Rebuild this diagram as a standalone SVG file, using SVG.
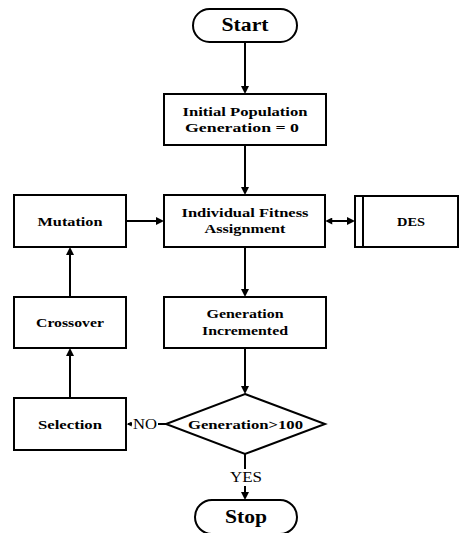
<svg xmlns="http://www.w3.org/2000/svg" width="460" height="533" viewBox="0 0 460 533">
<defs>
<style>
.box{fill:#fff;stroke:#000;stroke-width:2}
.t{font-family:"Liberation Serif","Times New Roman",serif;font-weight:bold;font-size:13px;text-anchor:middle;fill:#000}
.big{font-size:18px}
.lbl{font-family:"Liberation Serif","Times New Roman",serif;font-size:14px;text-anchor:middle;fill:#000}
.c{stroke:#000;stroke-width:2;fill:none}
</style>
<marker id="ah" viewBox="0 0 10 10" refX="7.5" refY="5" markerWidth="8" markerHeight="8" markerUnits="userSpaceOnUse" orient="auto"><path d="M0,0 L10,5 L0,10 z" fill="#000"/></marker>
<marker id="ahs" viewBox="0 0 10 10" refX="7.5" refY="5" markerWidth="5" markerHeight="5" markerUnits="userSpaceOnUse" orient="auto"><path d="M0,0 L10,5 L0,10 z" fill="#000"/></marker>
<marker id="ahb" viewBox="0 0 10 10" refX="2.5" refY="5" markerWidth="8" markerHeight="7" markerUnits="userSpaceOnUse" orient="auto"><path d="M10,0 L0,5 L10,10 z" fill="#000"/></marker>
</defs>
<g id="connectors">
<line class="c" x1="245" y1="42" x2="245" y2="92" marker-end="url(#ah)"/>
<line class="c" x1="245" y1="145" x2="245" y2="193" marker-end="url(#ah)"/>
<line class="c" x1="245" y1="247" x2="245" y2="295" marker-end="url(#ah)"/>
<line class="c" x1="245" y1="348" x2="245" y2="392" marker-end="url(#ah)"/>
<line class="c" x1="245" y1="454" x2="245" y2="498" marker-end="url(#ah)"/>
<rect x="228" y="469" width="36" height="17" fill="#fff"/>
<text class="lbl" x="246" y="482" textLength="32" lengthAdjust="spacingAndGlyphs">YES</text>
<line class="c" x1="166" y1="424" x2="128" y2="424" marker-end="url(#ahs)"/>
<rect x="132" y="416" width="26" height="16" fill="#fff"/>
<text class="lbl" x="145" y="429" textLength="24" lengthAdjust="spacingAndGlyphs">NO</text>
<line class="c" x1="70" y1="398" x2="70" y2="350" marker-end="url(#ah)"/>
<line class="c" x1="70" y1="297" x2="70" y2="249" marker-end="url(#ah)"/>
<line class="c" x1="126" y1="221" x2="162" y2="221" marker-end="url(#ah)"/>
<line class="c" x1="327" y1="221" x2="353" y2="221" marker-start="url(#ahb)" marker-end="url(#ah)"/>
</g>
<g id="start">
<rect class="box" x="193" y="9" width="104" height="33" rx="16.5" ry="16.5"/>
<text class="t big" x="245" y="31" textLength="47" lengthAdjust="spacingAndGlyphs">Start</text>
</g>
<g id="initial">
<rect class="box" x="164" y="94" width="162" height="51"/>
<text class="t" x="245" y="116" textLength="125" lengthAdjust="spacingAndGlyphs">Initial Population</text>
<text class="t" x="242" y="132" textLength="114" lengthAdjust="spacingAndGlyphs">Generation = 0</text>
</g>
<g id="fitness">
<rect class="box" x="164" y="195" width="161" height="52"/>
<text class="t" x="245" y="217" textLength="127" lengthAdjust="spacingAndGlyphs">Individual Fitness</text>
<text class="t" x="245" y="233" textLength="81" lengthAdjust="spacingAndGlyphs">Assignment</text>
</g>
<g id="des">
<rect class="box" x="355" y="196" width="103" height="51"/>
<line x1="363" y1="196" x2="363" y2="247" stroke="#000" stroke-width="2"/>
<text class="t" x="411" y="226" textLength="28" lengthAdjust="spacingAndGlyphs">DES</text>
</g>
<g id="mutation">
<rect class="box" x="14" y="195" width="112" height="52"/>
<text class="t" x="70" y="226" textLength="65" lengthAdjust="spacingAndGlyphs">Mutation</text>
</g>
<g id="crossover">
<rect class="box" x="14" y="297" width="112" height="51"/>
<text class="t" x="70" y="327" textLength="68" lengthAdjust="spacingAndGlyphs">Crossover</text>
</g>
<g id="increment">
<rect class="box" x="164" y="297" width="162" height="51"/>
<text class="t" x="245" y="318" textLength="77" lengthAdjust="spacingAndGlyphs">Generation</text>
<text class="t" x="245" y="335" textLength="86" lengthAdjust="spacingAndGlyphs">Incremented</text>
</g>
<g id="selection">
<rect class="box" x="14" y="398" width="112" height="52"/>
<text class="t" x="70" y="429" textLength="64" lengthAdjust="spacingAndGlyphs">Selection</text>
</g>
<g id="decision">
<polygon class="box" points="245,394 325,424 245,454 166,424"/>
<text class="t" x="245.5" y="429" textLength="115" lengthAdjust="spacingAndGlyphs">Generation&gt;100</text>
</g>
<g id="stop">
<rect class="box" x="195" y="500" width="102" height="34" rx="17" ry="17"/>
<text class="t big" x="246" y="523" textLength="42" lengthAdjust="spacingAndGlyphs">Stop</text>
</g>
</svg>
